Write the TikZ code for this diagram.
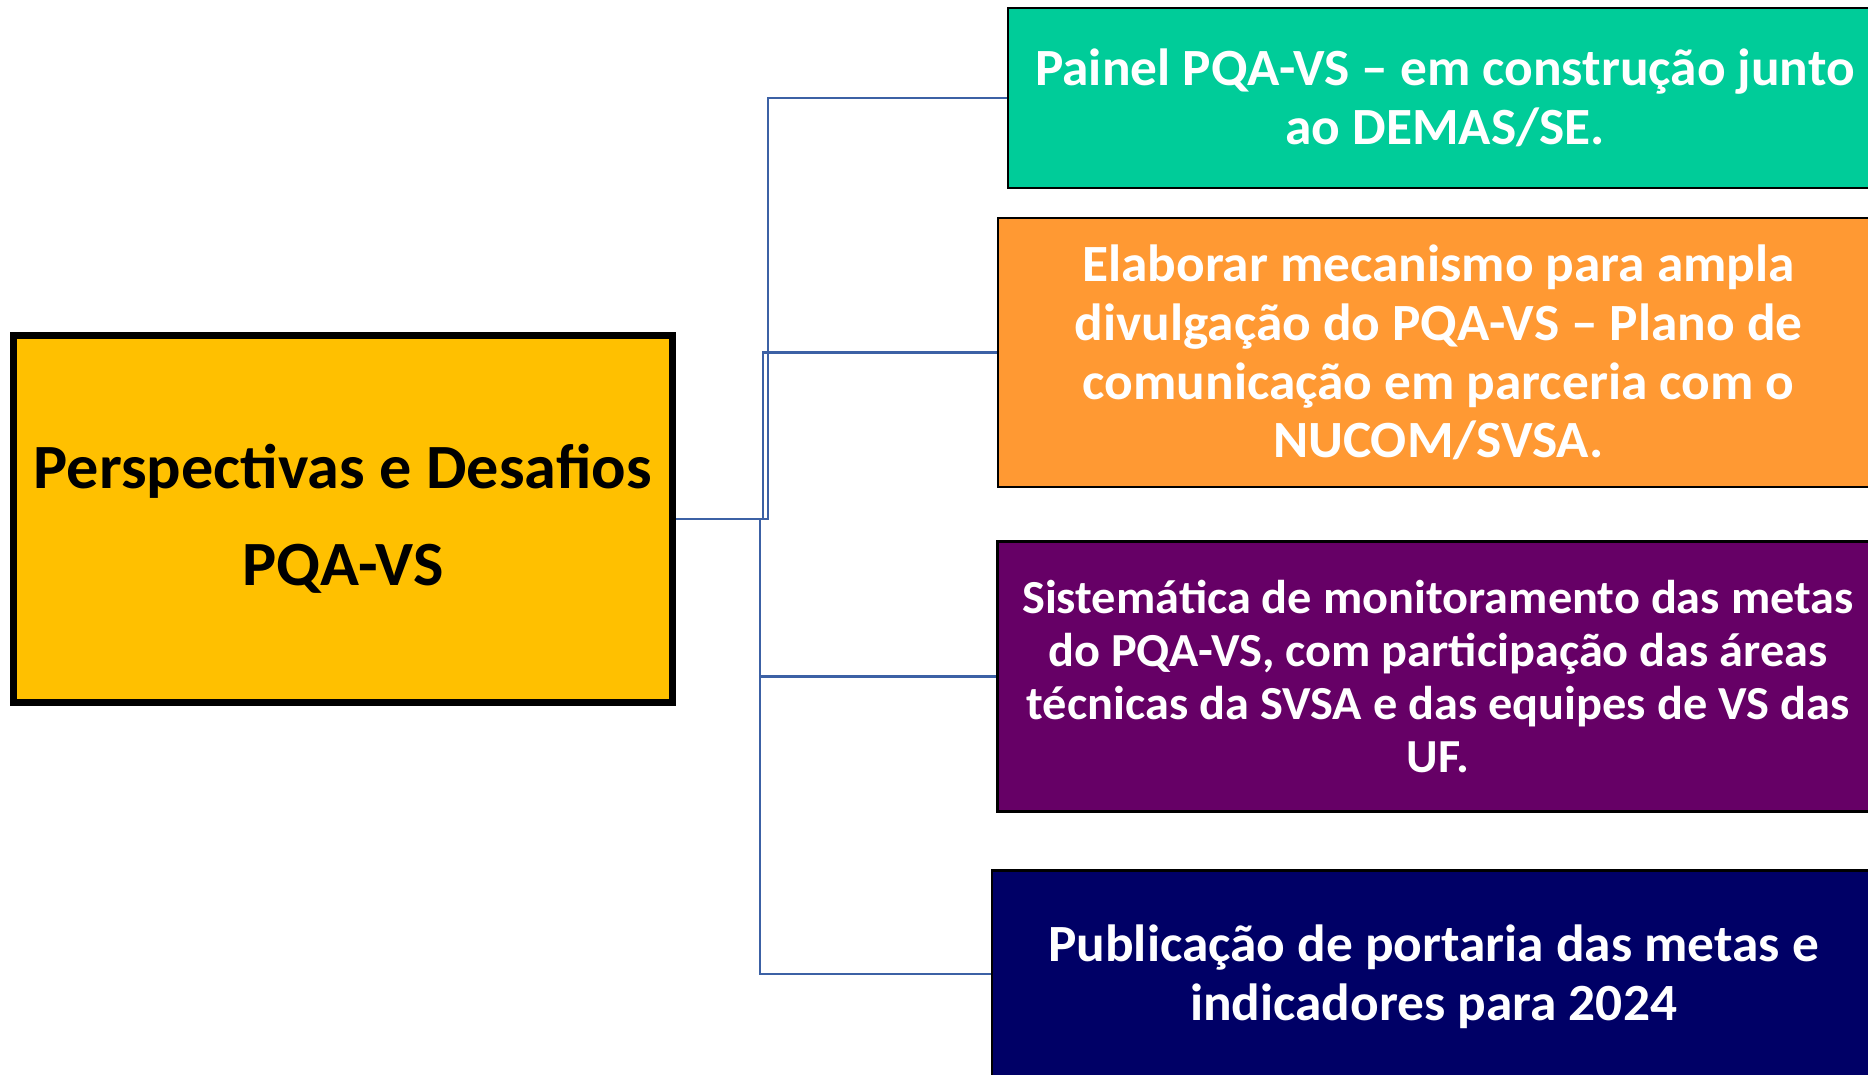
\documentclass[tikz,border=0pt]{standalone}
\usepackage{fontspec}
\setmainfont{Carlito}[FakeStretch=1.02]
\usetikzlibrary{backgrounds}
\definecolor{cteal}{HTML}{00CC99}
\definecolor{corange}{HTML}{FF9933}
\definecolor{cpurple}{HTML}{660066}
\definecolor{cnavy}{HTML}{000066}
\definecolor{cyellow}{HTML}{FFC000}
\definecolor{cline}{HTML}{3C61A5}
\tikzset{
  conn/.style={draw=cline, line width=2.5pt},
  ybox/.style={draw=black, line width=7pt, fill=cyellow, align=center, inner sep=0pt,
    font=\bfseries\fontsize{63pt}{97pt}\selectfont, text=black},
  rbox/.style={draw=black, line width=2.5pt, align=center, inner sep=0pt, text=white,
    font=\bfseries\fontsize{52.3pt}{58.7pt}\selectfont},
}
\begin{document}
\begin{tikzpicture}[x=1pt,y=-1pt]
\useasboundingbox (0,0) rectangle (1868,1075);
\coordinate (jt) at (768,0);
\coordinate (jo) at (763,0);
\coordinate (jp) at (760,0);
\node[ybox, minimum width=659pt, minimum height=367pt] (Y) at (343,519) {Perspectivas e Desafios\\PQA-VS};
\node[rbox, fill=cteal, minimum width=874pt, minimum height=180pt] (T) at (1445,98) {Painel PQA-VS – em construção junto\\ao DEMAS/SE.};
\node[rbox, fill=corange, minimum width=881pt, minimum height=269pt] (O) at (1438.5,352.5) {Elaborar mecanismo para ampla\\divulgação do PQA-VS – Plano de\\comunicação em parceria com o\\NUCOM/SVSA.};
\node[rbox, fill=cpurple, minimum width=881pt, minimum height=270pt, font=\bfseries\fontsize{47.4pt}{52.8pt}\selectfont] (P) at (1438,676.5) {Sistemática de monitoramento das metas\\do PQA-VS, com participação das áreas\\técnicas da SVSA e das equipes de VS das\\UF.};
\node[rbox, fill=cnavy, minimum width=883pt, minimum height=213pt] (N) at (1433.5,977) {Publicação de portaria das metas e\\indicadores para 2024};
\coordinate (nw) at (N.west);
\begin{scope}[on background layer]
\fill[white] (0,0) rectangle (1868,1075);
\draw[conn] (Y.east) -- (Y.east -| jt) |- (T.west);
\draw[conn] (Y.east) -- (Y.east -| jo) |- (O.west);
\draw[conn] (Y.east) -- (Y.east -| jp) |- (P.west);
\draw[conn] (Y.east) -- (Y.east -| jp) |- ([yshift=3pt]N.west);
\end{scope}
\end{tikzpicture}
\end{document}
